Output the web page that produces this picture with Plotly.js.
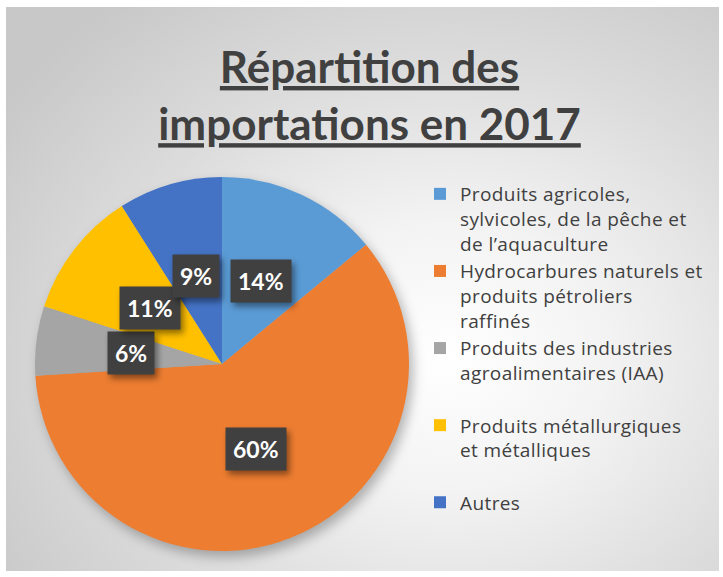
<!DOCTYPE html>
<html>
<head>
<meta charset="utf-8">
<script src="https://cdn.plot.ly/plotly-3.0.1.min.js"></script>
<style>
  html, body { margin: 0; padding: 0; background: #ffffff; }
  #frame {
    position: absolute; left: 6px; top: 7px; width: 713px; height: 564px;
    background: radial-gradient(ellipse 75% 80% at 62% 62%, #ffffff 0%, #f3f3f3 30%, #dcdcdc 65%, #c8c8c8 100%);
  }
  #chart { position: absolute; left: 0; top: 0; width: 723px; height: 577px; }
  text { font-variant-ligatures: none; }
  .legendtext { letter-spacing: 0.4px; }
  .pielayer { filter: drop-shadow(4px 6px 6px rgba(0,0,0,0.28)); }
  .annotation rect.bg { filter: drop-shadow(3px 4px 3px rgba(0,0,0,0.45)); }
</style>
</head>
<body>
<div id="frame"></div>
<div id="chart"></div>
<script>
// ---- data ----
const categories = [
  "Produits agricoles, sylvicoles, de la pêche et de l’aquaculture",
  "Hydrocarbures naturels et produits pétroliers raffinés",
  "Produits des industries agroalimentaires (IAA)",
  "Produits métallurgiques et métalliques",
  "Autres"
];
const legendLabels = [
  "Produits agricoles,<br>sylvicoles, de la pêche et<br>de l’aquaculture",
  "Hydrocarbures naturels et<br>produits pétroliers<br>raffinés",
  "Produits des industries<br>agroalimentaires (IAA)<br> ",
  "Produits métallurgiques<br>et métalliques<br> ",
  "Autres"
];
const values = [14, 60, 6, 11, 9];
const colors = ["#5B9BD5", "#ED7D31", "#A5A5A5", "#FFC000", "#4472C4"];
const titleLines = ["Répartition des", "importations en 2017"];

// ---- geometry of the pie (layout) ----
const W = 723, H = 577;
const pieLeft = 35, pieRight = 409, pieTop = 177, pieBottom = 551;
const cxPx = (pieLeft + pieRight) / 2, cyPx = (pieTop + pieBottom) / 2;
const rPx = (pieRight - pieLeft) / 2;
const labelFrac = 0.49;

const total = values.reduce((a, b) => a + b, 0);
let cum = 0;
const annotations = values.map((v, i) => {
  const mid = (cum + v / 2) / total * 2 * Math.PI;
  cum += v;
  const xPx = cxPx + labelFrac * rPx * Math.sin(mid);
  const yPx = cyPx - labelFrac * rPx * Math.cos(mid);
  return {
    x: xPx / W, y: 1 - yPx / H, xref: "paper", yref: "paper",
    xanchor: "center", yanchor: "middle",
    text: "<b>" + v + "%</b>", showarrow: false,
    font: { family: "Lato, sans-serif", size: 23, color: "#ffffff" },
    bgcolor: "#404040", borderpad: 7
  };
});

const trace = {
  type: "pie",
  labels: legendLabels,
  values: values,
  sort: false,
  direction: "clockwise",
  rotation: 0,
  textinfo: "none",
  hoverinfo: "skip",
  marker: { colors: colors, line: { width: 0 } },
  domain: { x: [pieLeft / W, pieRight / W], y: [1 - pieBottom / H, 1 - pieTop / H] }
};

const layout = {
  width: W, height: H,
  margin: { l: 0, r: 0, t: 0, b: 0 },
  paper_bgcolor: "rgba(0,0,0,0)",
  plot_bgcolor: "rgba(0,0,0,0)",
  title: {
    text: titleLines.map(t => "<b><u>" + t + "</u></b>").join("<br>"),
    x: 369.5 / W, xanchor: "center",
    y: 1 - 83 / H, yanchor: "top", yref: "container",
    font: { family: "Lato, sans-serif", size: 44, color: "#404040" }
  },
  showlegend: true,
  legend: {
    x: 420 / W, xanchor: "left",
    y: 1 - 175 / H, yanchor: "top",
    valign: "top",
    bgcolor: "rgba(0,0,0,0)",
    font: { family: "'Open Sans', sans-serif", size: 19, color: "#404040" },
    traceorder: "normal"
  },
  annotations: annotations
};

Plotly.newPlot("chart", [trace], layout, { displayModeBar: false, staticPlot: true });
</script>
</body>
</html>
